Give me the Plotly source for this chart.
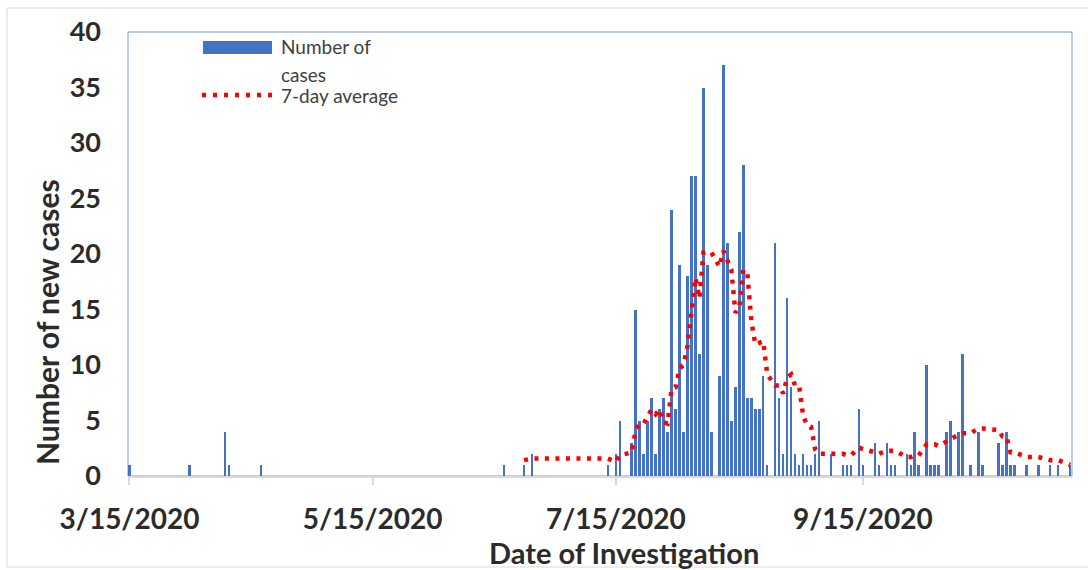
import plotly.graph_objects as go
import pandas as pd

# ---- data (days with cases only) ----
case_dates = [
    "2020-03-15", "2020-03-30", "2020-04-08", "2020-04-09", "2020-04-17",
    "2020-06-17", "2020-06-22", "2020-06-24",
    "2020-07-13", "2020-07-15", "2020-07-16", "2020-07-19", "2020-07-20",
    "2020-07-21", "2020-07-22", "2020-07-23", "2020-07-24", "2020-07-25",
    "2020-07-26", "2020-07-27", "2020-07-28", "2020-07-29", "2020-07-30",
    "2020-07-31", "2020-08-01", "2020-08-02", "2020-08-03", "2020-08-04",
    "2020-08-05", "2020-08-06", "2020-08-07", "2020-08-08", "2020-08-10",
    "2020-08-11", "2020-08-12", "2020-08-13", "2020-08-14", "2020-08-15",
    "2020-08-16", "2020-08-17", "2020-08-18", "2020-08-19", "2020-08-20",
    "2020-08-21", "2020-08-22", "2020-08-24", "2020-08-25", "2020-08-26",
    "2020-08-27", "2020-08-28", "2020-08-29", "2020-08-30", "2020-08-31",
    "2020-09-01", "2020-09-02", "2020-09-03", "2020-09-04", "2020-09-07",
    "2020-09-10", "2020-09-11", "2020-09-12", "2020-09-14", "2020-09-15",
    "2020-09-18", "2020-09-19", "2020-09-21", "2020-09-22", "2020-09-23",
    "2020-09-26", "2020-09-27", "2020-09-28", "2020-09-29", "2020-10-01",
    "2020-10-02", "2020-10-03", "2020-10-04", "2020-10-06", "2020-10-07",
    "2020-10-09", "2020-10-10", "2020-10-12", "2020-10-14", "2020-10-15",
    "2020-10-19", "2020-10-20", "2020-10-21", "2020-10-22", "2020-10-23",
    "2020-10-26", "2020-10-29", "2020-11-01", "2020-11-03", "2020-11-06",
]
case_counts = [
    1, 1, 4, 1, 1,
    1, 1, 2,
    1, 2, 5, 3, 15,
    5, 2, 5, 7, 2,
    6, 7, 4, 24, 6,
    19, 4, 18, 27, 27,
    11, 35, 19, 4, 9,
    37, 21, 5, 8, 22,
    28, 7, 7, 6, 6,
    9, 1, 21, 7, 2,
    16, 8, 2, 1, 2,
    1, 1, 2, 5, 2,
    1, 1, 1, 6, 1,
    3, 1, 3, 1, 1,
    2, 1, 4, 1, 10,
    1, 1, 1, 4, 5,
    4, 11, 1, 4, 1,
    3, 1, 4, 1, 1,
    1, 1, 1, 1, 1,
]
x_tick_vals = ["2020-03-15", "2020-05-15", "2020-07-15", "2020-09-15"]
x_tick_text = ["3/15/2020", "5/15/2020", "7/15/2020", "9/15/2020"]
y_tick_vals = [0, 5, 10, 15, 20, 25, 30, 35, 40]

bar_name = "Number of cases"
avg_name = "7-day average"

df = pd.DataFrame({"date": pd.to_datetime(case_dates), "cases": case_counts})
# Excel-style 7-period moving-average trendline over the plotted points
df["avg7"] = df["cases"].rolling(7).mean()

BLUE = "#4472C4"
RED = "#FF0000"
TXT = "#2b2b2b"
FONT = "Lato"
DAY_MS = 86400000

fig = go.Figure()
fig.add_trace(go.Bar(
    x=df["date"], y=df["cases"], name=bar_name,
    marker=dict(color=BLUE, line=dict(width=0)),
    width=0.62 * DAY_MS, showlegend=False,
))
fig.add_trace(go.Scatter(
    x=df["date"], y=df["avg7"], mode="lines", name=avg_name,
    line=dict(color=RED, width=4.5, dash="4px,6.5px"),
    showlegend=False,
))

L, R, T, B = 128, 16, 32, 94
W, H = 1088, 570
pw, ph = W - L - R, H - T - B


def px_x(x):
    return (x - L) / pw


def px_y(y):
    return (H - B - y) / ph


fig.update_layout(
    width=W, height=H,
    margin=dict(l=L, r=R, t=T, b=B, pad=0),
    paper_bgcolor="white", plot_bgcolor="white",
    font=dict(family=FONT, color=TXT),
    bargap=0,
    xaxis=dict(
        type="date",
        range=["2020-03-14 15:00", "2020-11-06 11:00"],
        tickvals=x_tick_vals, ticktext=x_tick_text,
        ticks="outside", ticklen=7, tickwidth=2, tickcolor="#D9D9D9",
        showline=True, linecolor="#D9D9D9", linewidth=2,
        showgrid=False, zeroline=False,
        tickfont=dict(family=FONT, size=28, color=TXT, weight="bold"),
        ticklabelstandoff=10,
    ),
    yaxis=dict(
        range=[0, 40], tickvals=y_tick_vals,
        showgrid=False, zeroline=False, showline=False, ticks="",
        tickfont=dict(family=FONT, size=27, color=TXT, weight="bold"),
        ticklabelstandoff=26,
    ),
    shapes=[
        # chart-area border
        dict(type="rect", xref="paper", yref="paper",
             x0=px_x(7), x1=px_x(1095), y0=px_y(567), y1=px_y(8),
             line=dict(color="#D9D9D9", width=1), layer="below"),
        # plot-area border
        dict(type="rect", xref="paper", yref="paper",
             x0=0, x1=1, y0=0, y1=1,
             line=dict(color="#7C9BD6", width=1), layer="below"),
        # legend swatches
        dict(type="rect", xref="paper", yref="paper",
             x0=px_x(203), x1=px_x(272), y0=px_y(54), y1=px_y(41),
             fillcolor=BLUE, line=dict(width=0)),
        dict(type="line", xref="paper", yref="paper",
             x0=px_x(202), x1=px_x(274), y0=px_y(95), y1=px_y(95),
             line=dict(color=RED, width=4.5, dash="4px,7px")),
    ],
    annotations=[
        dict(text="Number of", xref="paper", yref="paper",
             x=px_x(279), y=px_y(47), xanchor="left", yanchor="middle",
             showarrow=False, font=dict(family=FONT, size=19, color="#404040")),
        dict(text="cases", xref="paper", yref="paper",
             x=px_x(279), y=px_y(74), xanchor="left", yanchor="middle",
             showarrow=False, font=dict(family=FONT, size=19, color="#404040")),
        dict(text=avg_name, xref="paper", yref="paper",
             x=px_x(279), y=px_y(96), xanchor="left", yanchor="middle",
             showarrow=False, font=dict(family=FONT, size=19, color="#404040")),
        dict(text="Number of new cases", xref="paper", yref="paper",
             x=px_x(47), y=px_y(322), xanchor="center", yanchor="middle",
             textangle=-90, showarrow=False,
             font=dict(family=FONT, size=30, color=TXT, weight="bold")),
        dict(text="Date of Investigation", xref="paper", yref="paper",
             x=px_x(624), y=px_y(552), xanchor="center", yanchor="middle",
             showarrow=False,
             font=dict(family=FONT, size=29, color=TXT, weight="bold")),
    ],
)

fig.write_html("out.html", config={"displayModeBar": False},
               post_script="document.body.style.margin='0px';")
